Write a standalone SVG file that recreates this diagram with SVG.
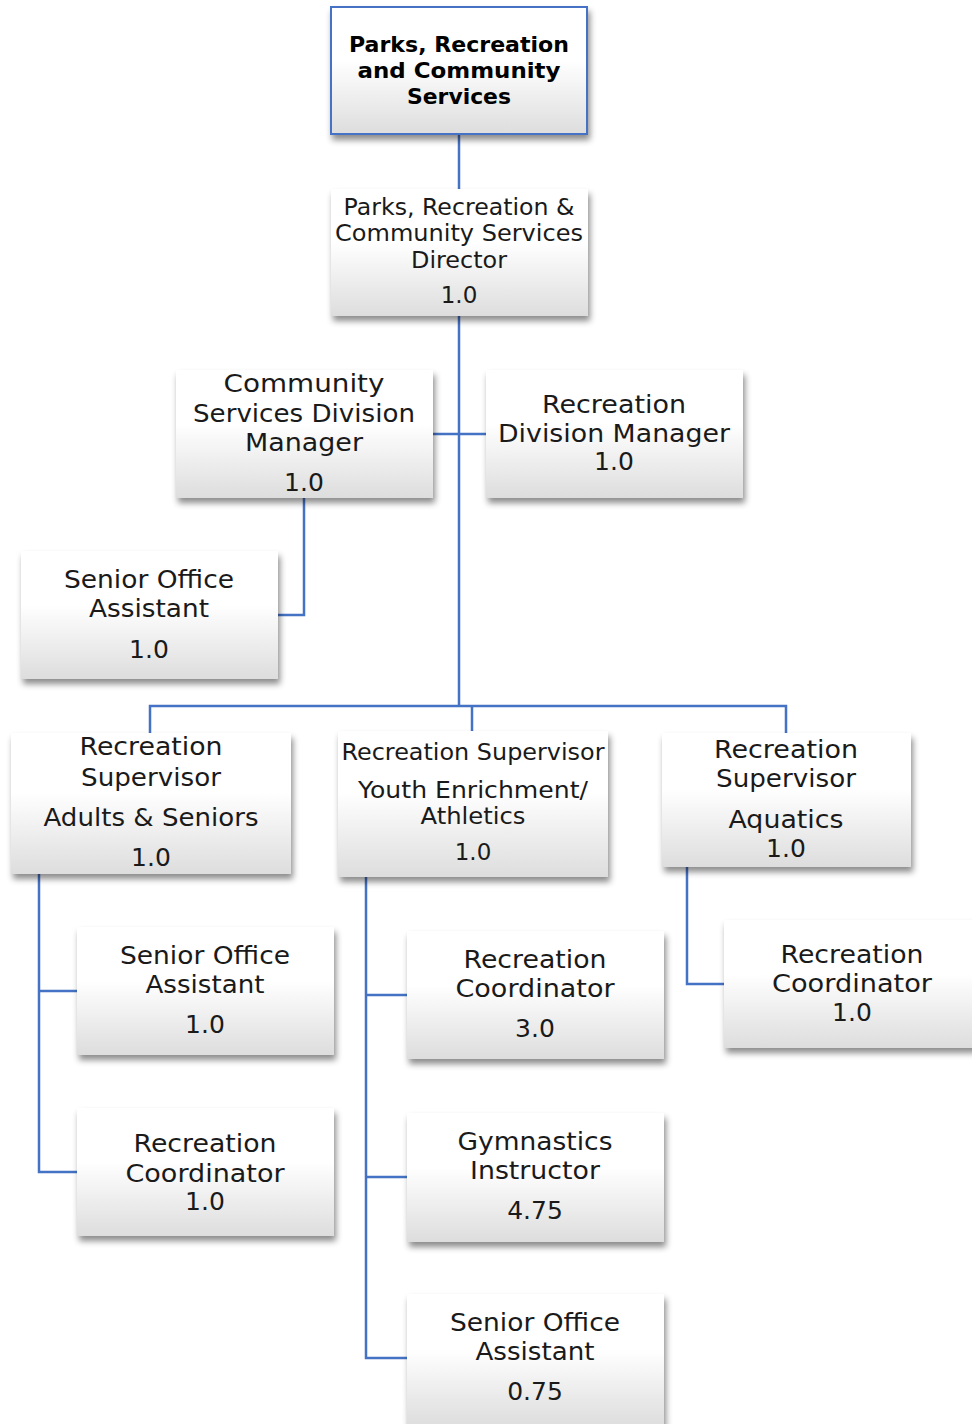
<svg xmlns="http://www.w3.org/2000/svg" width="972" height="1424" viewBox="0 0 972 1424">
  <defs>
    <linearGradient id="boxFill" x1="0" y1="0" x2="0" y2="1">
      <stop offset="0" stop-color="#ffffff"/>
      <stop offset="0.42" stop-color="#ffffff"/>
      <stop offset="1" stop-color="#dddddd"/>
    </linearGradient>
    <filter id="shadow" x="-10%" y="-10%" width="125%" height="130%">
      <feDropShadow dx="2" dy="5" stdDeviation="3" flood-color="#000" flood-opacity="0.45"/>
    </filter>
  </defs>
  <style>
    .box { fill: url(#boxFill); filter: url(#shadow); }
    .head { stroke: #4472c4; stroke-width: 2; }
    .t { font-family: "DejaVu Sans", "Liberation Sans", sans-serif; font-size: 25px; fill: #1a1a1a; text-anchor: middle; }
    .s { font-size: 23px; }
    .b { font-family: "DejaVu Sans", "Liberation Sans", sans-serif; font-size: 21px; font-weight: bold; fill: #000; text-anchor: middle; }
    .link { fill: none; stroke: #4472c4; stroke-width: 2.5; }
  </style>
  <rect width="972" height="1424" fill="#ffffff"/>

  <!-- reporting lines -->
  <g id="connectors" class="link">
    <path d="M459 134 V189"/>
    <path d="M459 316 V706"/>
    <path d="M433 434 H486"/>
    <path d="M304 498 V615 H278"/>
    <path d="M150 733 V706 H786 V733"/>
    <path d="M472 706 V731"/>
    <path d="M39 874 V1172 H77"/>
    <path d="M39 991 H77"/>
    <path d="M366 877 V1358 H407"/>
    <path d="M366 995 H407"/>
    <path d="M366 1177 H407"/>
    <path d="M687 867 V984 H724"/>
  </g>

  <g id="department">
    <rect class="box head" x="331" y="7" width="256" height="127"/>
    <text class="b" x="459" y="52" textLength="220" lengthAdjust="spacingAndGlyphs">Parks, Recreation</text>
    <text class="b" x="459" y="78" textLength="203" lengthAdjust="spacingAndGlyphs">and Community</text>
    <text class="b" x="459" y="104" textLength="104" lengthAdjust="spacingAndGlyphs">Services</text>
  </g>

  <g id="director">
    <rect class="box" x="331" y="189" width="257" height="127"/>
    <text class="t s" x="459" y="215" textLength="231" lengthAdjust="spacingAndGlyphs">Parks, Recreation &amp;</text>
    <text class="t s" x="459" y="241" textLength="248" lengthAdjust="spacingAndGlyphs">Community Services</text>
    <text class="t s" x="459" y="268" textLength="96" lengthAdjust="spacingAndGlyphs">Director</text>
    <text class="t s" x="459" y="303">1.0</text>
  </g>

  <g id="community-services-manager">
    <rect class="box" x="176" y="370" width="257" height="128"/>
    <text class="t" x="304" y="392" textLength="161" lengthAdjust="spacingAndGlyphs">Community</text>
    <text class="t" x="304" y="422" textLength="222" lengthAdjust="spacingAndGlyphs">Services Division</text>
    <text class="t" x="304" y="451" textLength="118" lengthAdjust="spacingAndGlyphs">Manager</text>
    <text class="t" x="304" y="491">1.0</text>
  </g>

  <g id="recreation-manager">
    <rect class="box" x="486" y="370" width="257" height="128"/>
    <text class="t" x="614" y="413" textLength="144" lengthAdjust="spacingAndGlyphs">Recreation</text>
    <text class="t" x="614" y="442" textLength="232" lengthAdjust="spacingAndGlyphs">Division Manager</text>
    <text class="t" x="614" y="470">1.0</text>
  </g>

  <g id="office-assistant-cs">
    <rect class="box" x="21" y="551" width="257" height="128"/>
    <text class="t" x="149" y="588" textLength="170" lengthAdjust="spacingAndGlyphs">Senior Office</text>
    <text class="t" x="149" y="617" textLength="120" lengthAdjust="spacingAndGlyphs">Assistant</text>
    <text class="t" x="149" y="658">1.0</text>
  </g>

  <g id="supervisor-adults">
    <rect class="box" x="11" y="733" width="280" height="141"/>
    <text class="t" x="151" y="755" textLength="143" lengthAdjust="spacingAndGlyphs">Recreation</text>
    <text class="t" x="151" y="786" textLength="140" lengthAdjust="spacingAndGlyphs">Supervisor</text>
    <text class="t" x="151" y="826" textLength="215" lengthAdjust="spacingAndGlyphs">Adults &amp; Seniors</text>
    <text class="t" x="151" y="866">1.0</text>
  </g>

  <g id="supervisor-youth">
    <rect class="box" x="338" y="731" width="270" height="146"/>
    <text class="t s" x="473" y="760" textLength="263" lengthAdjust="spacingAndGlyphs">Recreation Supervisor</text>
    <text class="t s" x="473" y="798" textLength="230" lengthAdjust="spacingAndGlyphs">Youth Enrichment/</text>
    <text class="t s" x="473" y="824" textLength="105" lengthAdjust="spacingAndGlyphs">Athletics</text>
    <text class="t s" x="473" y="860">1.0</text>
  </g>

  <g id="supervisor-aquatics">
    <rect class="box" x="662" y="733" width="249" height="134"/>
    <text class="t" x="786" y="758" textLength="144" lengthAdjust="spacingAndGlyphs">Recreation</text>
    <text class="t" x="786" y="787" textLength="140" lengthAdjust="spacingAndGlyphs">Supervisor</text>
    <text class="t" x="786" y="828" textLength="115" lengthAdjust="spacingAndGlyphs">Aquatics</text>
    <text class="t" x="786" y="857">1.0</text>
  </g>

  <g id="office-assistant-adults">
    <rect class="box" x="77" y="927" width="257" height="128"/>
    <text class="t" x="205" y="964" textLength="170" lengthAdjust="spacingAndGlyphs">Senior Office</text>
    <text class="t" x="205" y="993" textLength="119" lengthAdjust="spacingAndGlyphs">Assistant</text>
    <text class="t" x="205" y="1033">1.0</text>
  </g>

  <g id="coordinator-adults">
    <rect class="box" x="77" y="1108" width="257" height="128"/>
    <text class="t" x="205" y="1152" textLength="143" lengthAdjust="spacingAndGlyphs">Recreation</text>
    <text class="t" x="205" y="1182" textLength="159" lengthAdjust="spacingAndGlyphs">Coordinator</text>
    <text class="t" x="205" y="1210">1.0</text>
  </g>

  <g id="coordinator-youth">
    <rect class="box" x="407" y="931" width="257" height="128"/>
    <text class="t" x="535" y="968" textLength="143" lengthAdjust="spacingAndGlyphs">Recreation</text>
    <text class="t" x="535" y="997" textLength="159" lengthAdjust="spacingAndGlyphs">Coordinator</text>
    <text class="t" x="535" y="1037">3.0</text>
  </g>

  <g id="gymnastics-instructor">
    <rect class="box" x="407" y="1113" width="257" height="129"/>
    <text class="t" x="535" y="1150" textLength="155" lengthAdjust="spacingAndGlyphs">Gymnastics</text>
    <text class="t" x="535" y="1179" textLength="130" lengthAdjust="spacingAndGlyphs">Instructor</text>
    <text class="t" x="535" y="1219">4.75</text>
  </g>

  <g id="office-assistant-youth">
    <rect class="box" x="407" y="1294" width="257" height="132"/>
    <text class="t" x="535" y="1331" textLength="170" lengthAdjust="spacingAndGlyphs">Senior Office</text>
    <text class="t" x="535" y="1360" textLength="119" lengthAdjust="spacingAndGlyphs">Assistant</text>
    <text class="t" x="535" y="1400">0.75</text>
  </g>

  <g id="coordinator-aquatics">
    <rect class="box" x="724" y="920" width="257" height="128"/>
    <text class="t" x="852" y="963" textLength="143" lengthAdjust="spacingAndGlyphs">Recreation</text>
    <text class="t" x="852" y="992" textLength="160" lengthAdjust="spacingAndGlyphs">Coordinator</text>
    <text class="t" x="852" y="1021">1.0</text>
  </g>
</svg>
